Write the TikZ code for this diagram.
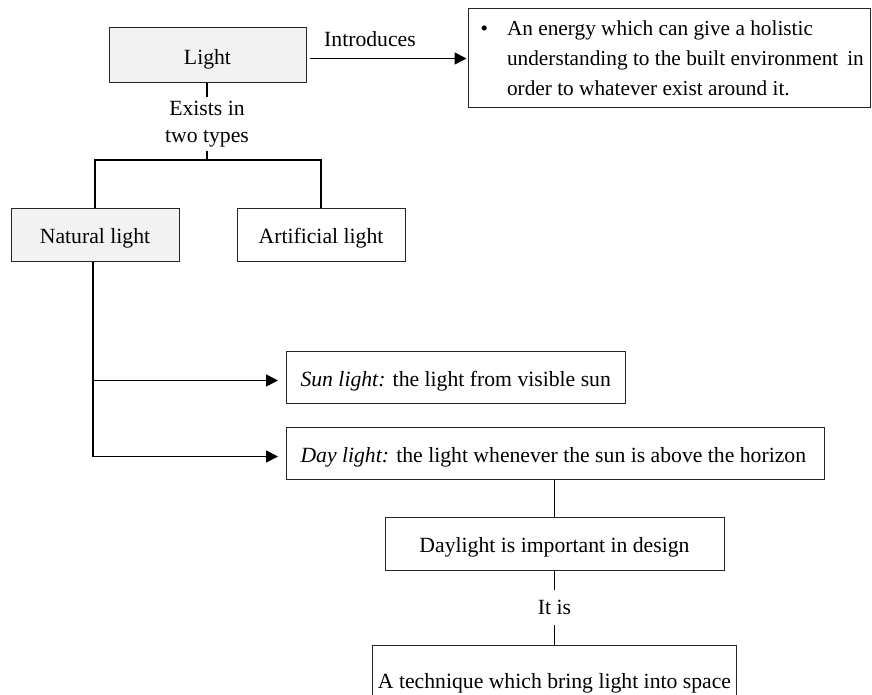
\documentclass[tikz,border=0pt]{standalone}
\usepackage{fontspec}
\setmainfont{Liberation Serif}
\usetikzlibrary{arrows.meta}
\begin{document}
\begin{tikzpicture}[x=1pt,y=1pt,
  font=\fontsize{21.7}{26}\selectfont,
  box/.style={draw=black!85, line width=1pt, inner sep=0pt, minimum height=53pt, text height=21pt, text depth=3pt},
  grayfill/.style={fill=black!5},
  conn/.style={line width=1.6pt},
  arr/.style={conn,-{Triangle[length=12pt,width=12pt]}}]
\useasboundingbox (0,0) rectangle (872,-695);
% top row
\node[box,grayfill,minimum width=197pt,minimum height=55pt] (light) at (207.5,-55.5) {Light};
\node[box,minimum width=402pt,minimum height=99pt,text height=,text depth=] (energy) at (669,-58.5)
  {\raisebox{2pt}{\parbox{402pt}{\fontsize{21.3}{30}\selectfont\raggedright\leftskip=39pt\noindent\llap{\textbullet\hspace{19pt}}\mbox{An energy which can give a holistic}\\\mbox{understanding to the built environment\hspace{9pt}in}\\\mbox{order to whatever exist around it.}}}};
\node[anchor=base,inner sep=0pt] (intro) at (370,-47) {Introduces};
\draw[arr,shorten >=1pt] ([xshift=3pt]light.east |- energy.west) -- (energy.west);
% two types
\node[align=center,inner sep=0pt,minimum height=53pt,font=\fontsize{21.7}{27}\selectfont] (exists) at (207,-124) {Exists in\\two types};
\coordinate (split) at (207,-160);
\draw[conn] (light.south -| exists.north) -- (exists.north);
\draw[conn] (exists.south) -- (split);
\node[box,grayfill,minimum width=168pt] (nat) at (95,-234.5) {Natural light};
\node[box,minimum width=168pt] (art) at (321,-234.5) {Artificial light};
\draw[conn] (nat.north) |- (split) -| (art.north);
% natural light branches
\node[box,minimum width=339pt,minimum height=52pt,anchor=north west,inner xsep=14pt] (sun) at (286,-351) {\makebox[311pt][l]{\textit{Sun light:} the light from visible sun}};
\node[box,minimum width=538pt,minimum height=52pt,anchor=north west,inner xsep=14pt] (day) at (286,-427) {\makebox[510pt][l]{\textit{Day light:} the light whenever the sun is above the horizon}};
\draw[arr,shorten >=8pt] ([xshift=-2pt]nat.south) |- ([yshift=-3pt]sun.west);
\draw[arr,shorten >=8pt] ([xshift=-2pt]nat.south) |- ([yshift=-3pt]day.west);
% lower chain
\node[box,minimum width=339pt] (imp) at (554.5,-543.5) {Daylight is important in design};
\node[inner sep=0pt,minimum height=35pt] (itis) at (554.5,-607.5) {It is};
\node[box,minimum width=364pt,minimum height=68pt] (tech) at (554.5,-679) {A technique which bring light into space};
\draw[conn] (day.south -| imp.north) -- (imp.north);
\draw[conn] (imp.south) -- (itis.north);
\draw[conn] (itis.south) -- (tech.north);
\end{tikzpicture}
\end{document}
